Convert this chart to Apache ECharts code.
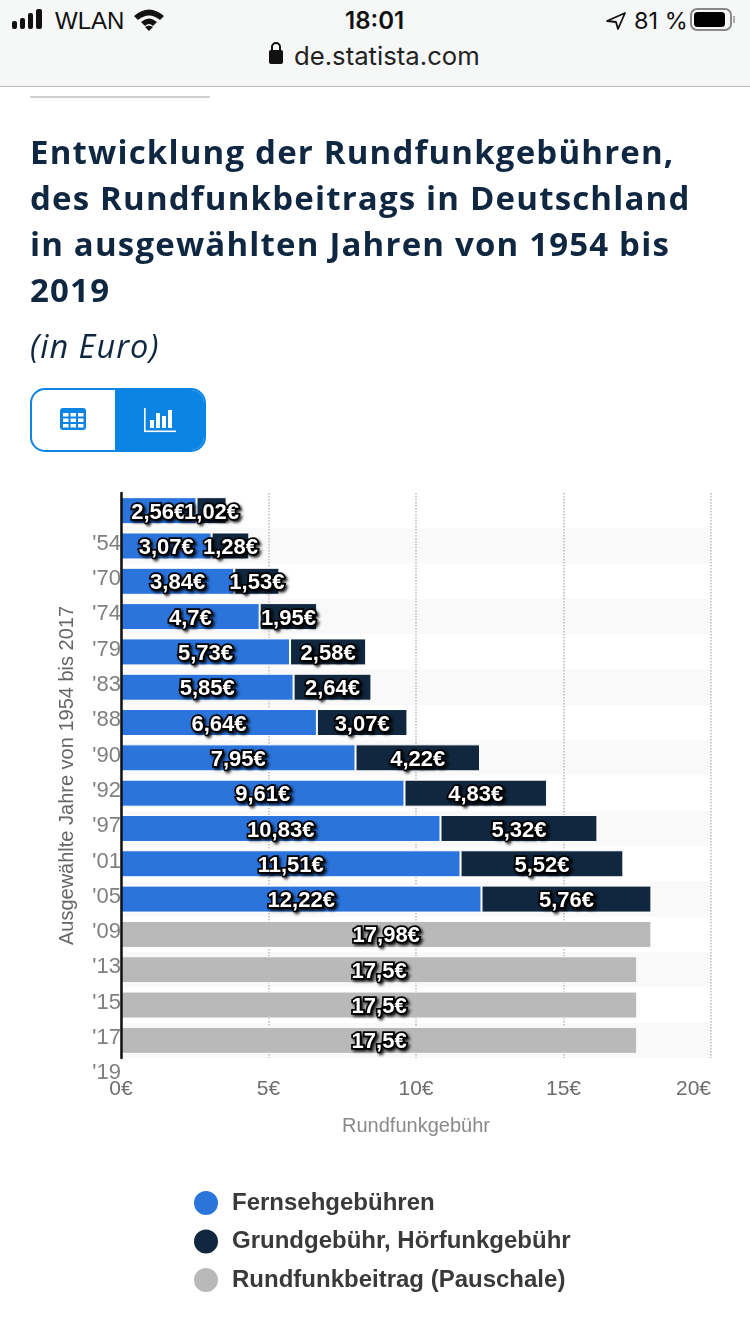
<!DOCTYPE html>
<html lang="de">
<head>
<meta charset="utf-8">
<title>Rundfunkgebühren</title>
<script src="https://cdn.jsdelivr.net/npm/echarts@6/dist/echarts.min.js"></script>
<style>
html,body{margin:0;padding:0;background:#fff;width:750px;height:1334px;overflow:hidden}
#chart{position:absolute;left:0;top:0;width:750px;height:1334px}
.abs{position:absolute;white-space:nowrap}
#bar{left:0;top:0;width:750px;height:86px;background:#f6f7f7;border-bottom:1px solid #b9b9b9}
.st{font-family:Inter,"Liberation Sans",sans-serif;color:#111}
#rule{left:30px;top:96px;width:180px;height:2px;background:#cfcfcf}
#title{left:30px;top:129px;font:700 33px/46px "Open Sans",sans-serif;letter-spacing:1.18px;color:#0f2740}
#sub{left:30px;top:324px;font:italic 400 32.5px/44px "Open Sans",sans-serif;letter-spacing:1px;color:#0f2740}
#toggle{left:30px;top:388px;width:172px;height:60px;border:2px solid #0c84e4;border-radius:15px;overflow:hidden;background:#fff}
#toggle div{position:absolute;left:83px;top:0;width:90px;height:60px;background:#0c84e4}
</style>
</head>
<body>
<div id="chart"></div>
<div class="abs" id="bar"></div>
<svg class="abs" style="left:0;top:0" width="750" height="86">
  <g fill="#111">
    <rect x="12" y="21" width="5" height="8" rx="2"/><rect x="20" y="18" width="5" height="11" rx="2"/>
    <rect x="28" y="13" width="5" height="16" rx="2"/><rect x="36" y="9" width="6" height="20" rx="2"/>
    <path d="M134 16 Q149 3 164 16 L160 20 Q149 11 138 20Z"/>
    <path d="M141 22 Q149 15 157 22 L153 26 Q149 22 145 26Z"/>
    <path d="M149 31 L145 27 Q149 24 153 27Z"/>
    <path d="M625 13 L607 21 L616 22 L618 29Z" fill="none" stroke="#111" stroke-width="1.8" stroke-linejoin="round"/>
    <rect x="269" y="50" width="14" height="14" rx="2"/>
    <path d="M272 50 v-3 a4 4 0 0 1 8 0 v3" fill="none" stroke="#111" stroke-width="2"/>
  </g>
  <rect x="691" y="9" width="40" height="21" rx="6" fill="none" stroke="#888" stroke-width="2"/>
  <rect x="694" y="12" width="31" height="15" rx="3.5" fill="#000"/>
  <path d="M734 16 v7" stroke="#999" stroke-width="1.5"/>
</svg>
<div class="abs st" style="left:55px;top:6px;font-family:'Liberation Sans';font-size:24px;line-height:30px">WLAN</div>
<div class="abs st" style="left:345px;top:6px;font-size:24px;line-height:30px;font-weight:600">18:01</div>
<div class="abs st" style="left:634px;top:6px;font-size:23.5px;line-height:30px">81 %</div>
<div class="abs st" style="left:294px;top:40px;font-size:25.7px;line-height:32px;color:#222">de.statista.com</div>
<div class="abs" id="rule"></div>
<div class="abs" id="title">Entwicklung der Rundfunkgebühren,<br>des Rundfunkbeitrags in Deutschland<br>in ausgewählten Jahren von 1954 bis<br>2019</div>
<div class="abs" id="sub">(in Euro)</div>
<div class="abs" id="toggle"><div></div></div>
<svg class="abs" style="left:0;top:380px" width="220" height="80">
  <rect x="60" y="28" width="26" height="22" rx="3" fill="#0c84e4"/>
  <g fill="#fff">
    <rect x="63" y="33" width="5.5" height="3.5"/><rect x="70.5" y="33" width="5.5" height="3.5"/><rect x="78" y="33" width="5.5" height="3.5"/>
    <rect x="63" y="38.5" width="5.5" height="3.5"/><rect x="70.5" y="38.5" width="5.5" height="3.5"/><rect x="78" y="38.5" width="5.5" height="3.5"/>
    <rect x="63" y="44" width="5.5" height="3.5"/><rect x="70.5" y="44" width="5.5" height="3.5"/><rect x="78" y="44" width="5.5" height="3.5"/>
    <rect x="144" y="28" width="1.6" height="24"/><rect x="144" y="50.5" width="32" height="1.6"/>
    <rect x="150" y="40" width="4" height="8"/><rect x="156" y="33" width="4" height="15"/><rect x="162" y="36" width="4" height="12"/><rect x="168" y="30" width="4" height="18"/>
  </g>
</svg>
<script>
var years = ["'54","'70","'74","'79","'83","'88","'90","'92","'97","'01","'05","'09","'13","'15","'17","'19"];
var tvFees = [2.56,3.07,3.84,4.7,5.73,5.85,6.64,7.95,9.61,10.83,11.51,12.22,null,null,null,null];
var radioFees = [1.02,1.28,1.53,1.95,2.58,2.64,3.07,4.22,4.83,5.32,5.52,5.76,null,null,null,null];
var flatFee = [null,null,null,null,null,null,null,null,null,null,null,null,17.98,17.5,17.5,17.5];
var seriesNames = ["Fernsehgebühren","Grundgebühr, Hörfunkgebühr","Rundfunkbeitrag (Pauschale)"];
var seriesColors = ["#2a74dc","#10273f","#b9b9b9"];

function euro(p){ return String(p.value).replace('.',',') + '€'; }
function makeSeries(i, values){
  return {
    name: seriesNames[i], type:'bar', stack:'total', data: values, barWidth:27,
    itemStyle:{color:seriesColors[i], borderColor:'#fff', borderWidth:1},
    label:{
      show:true, position:'inside', formatter:euro, offset:[0,2],
      color:'#fff', fontFamily:'"Liberation Sans",Arial,sans-serif', fontWeight:'bold', fontSize:22,
      textBorderColor:'#000', textBorderWidth:3.5,
      textShadowColor:'rgba(0,0,0,0.75)', textShadowBlur:3, textShadowOffsetX:2, textShadowOffsetY:2
    }
  };
}
var chart = echarts.init(document.getElementById('chart'), null, {width:750,height:1334});
chart.setOption({
  animation:false,
  backgroundColor:'transparent',
  textStyle:{fontFamily:'"Liberation Sans",Arial,sans-serif'},
  grid:{left:121,top:493,width:590,height:565,containLabel:false},
  legend:{
    orient:'vertical', left:187, top:1184, itemWidth:26, itemHeight:26, itemGap:10.5, icon:'circle',
    data:seriesNames, selectedMode:false,
    textStyle:{fontFamily:'"Liberation Sans",Arial,sans-serif', fontWeight:'bold', fontSize:24, color:'#3a3a3a', padding:[0,0,0,8]}
  },
  xAxis:{
    type:'value', min:0, max:20, interval:5,
    axisLine:{show:false}, axisTick:{show:false},
    splitLine:{show:true, lineStyle:{type:'dotted', color:'#bbbbbb', width:1.5}},
    axisLabel:{formatter:'{value}€', color:'#6e6e6e', fontSize:21, margin:21, alignMaxLabel:'right'},
    name:'Rundfunkgebühr', nameLocation:'middle', nameGap:58,
    nameTextStyle:{color:'#8a8a8a', fontSize:20}
  },
  yAxis:[{
    type:'category', inverse:true, data:years,
    axisLine:{show:false}, axisTick:{show:false},
    splitArea:{show:true, areaStyle:{color:['#ffffff','#f9f9f9']}},
    axisLabel:{color:'#808080', fontSize:22, margin:0, verticalAlign:'top', lineHeight:66, interval:0, showMinLabel:true, showMaxLabel:true, hideOverlap:false},
    name:'Ausgewählte Jahre von 1954 bis 2017', nameLocation:'middle', nameGap:44, nameRotate:90,
    nameTextStyle:{color:'#666', fontSize:20}
  },{
    type:'category', inverse:true, data:years, position:'left', z:5,
    axisLine:{show:true, onZero:false, lineStyle:{color:'#111', width:2.5}},
    axisTick:{show:false}, axisLabel:{show:false}, splitArea:{show:false}, splitLine:{show:false}
  }],
  series:[makeSeries(0,tvFees), makeSeries(1,radioFees), makeSeries(2,flatFee)]
});
</script>
</body>
</html>
